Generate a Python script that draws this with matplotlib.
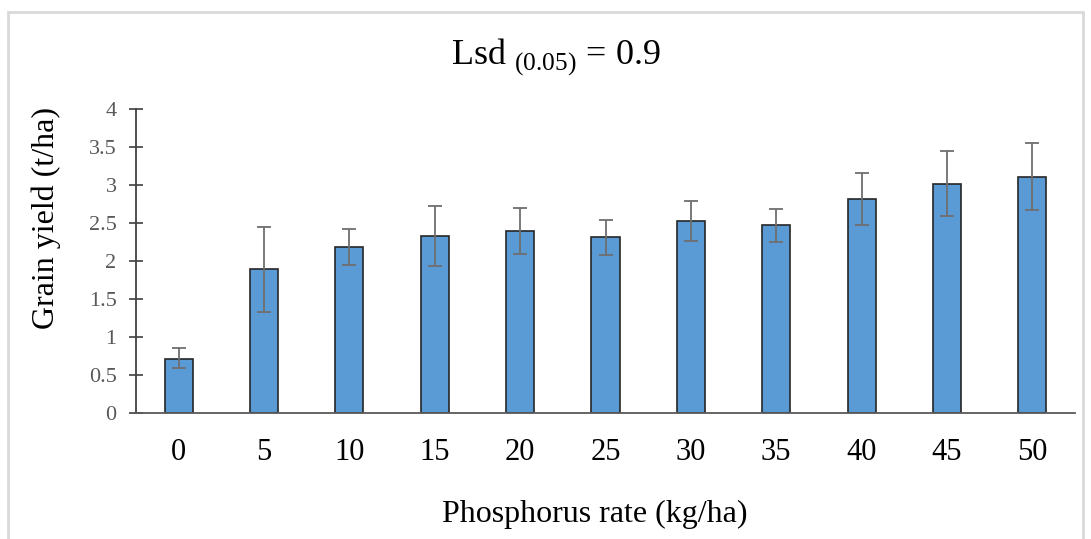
import matplotlib.pyplot as plt
from matplotlib.patches import Rectangle
import numpy as np

# data
p_rate = ['0', '5', '10', '15', '20', '25', '30', '35', '40', '45', '50']
grain_yield = [0.72, 1.90, 2.18, 2.33, 2.40, 2.32, 2.53, 2.47, 2.82, 3.02, 3.11]
err_low = [0.13, 0.57, 0.23, 0.40, 0.30, 0.24, 0.26, 0.22, 0.34, 0.42, 0.44]
err_high = [0.14, 0.55, 0.24, 0.39, 0.30, 0.22, 0.26, 0.22, 0.34, 0.43, 0.44]
y_ticks = [0, 0.5, 1, 1.5, 2, 2.5, 3, 3.5, 4]
y_ticklabels = ['0', '0.5', '1', '1.5', '2', '2.5', '3', '3.5', '4']

plt.rcParams['font.family'] = ['Liberation Serif', 'DejaVu Serif']
plt.rcParams['mathtext.fontset'] = 'custom'
plt.rcParams['mathtext.rm'] = 'Liberation Serif'

W, H = 1091, 539
fig = plt.figure(figsize=(W / 100, H / 100), dpi=100)
ax = fig.add_axes([136 / W, 1 - 413.3 / H, (1075 - 136) / W, (413.3 - 109) / H])

# light grey frame round the chart area
fig.patches.append(Rectangle((8 / W, -0.05), (1083 - 8) / W, 1.05 - 12 / H,
                             transform=fig.transFigure, fill=False,
                             edgecolor='#d9d9d9', linewidth=2))

x = np.arange(len(p_rate))
ax.bar(x, grain_yield, width=0.33, color='#5b9bd5', edgecolor='#262626',
       linewidth=1.2, zorder=2)
ax.errorbar(x, grain_yield, yerr=[err_low, err_high], fmt='none',
            ecolor='#6e6e6e', elinewidth=1.3, capsize=5, capthick=1.3, zorder=3)

ax.set_xlim(-0.5, len(p_rate) - 0.5)
ax.set_ylim(0, 4)
ax.set_xticks(x)
ax.set_xticklabels(p_rate, fontsize=22, color='black')
ax.tick_params(axis='x', length=0, pad=18)
ax.set_yticks(y_ticks)
ax.set_yticklabels(y_ticklabels, fontsize=16, color='#595959')
ax.tick_params(axis='y', direction='inout', length=10, width=1.2,
               color='#404040', pad=9)

for s in ['top', 'right']:
    ax.spines[s].set_visible(False)
ax.spines['left'].set_color('#404040')
ax.spines['left'].set_linewidth(1.3)
ax.spines['bottom'].set_color('#595959')
ax.spines['bottom'].set_linewidth(1.3)

fig.text(556 / W, 1 - 57 / H, r'Lsd $_{\mathrm{(0.05)}}$ = 0.9', fontsize=26,
         ha='center', va='center')
fig.text(595 / W, 1 - 514 / H, 'Phosphorus rate (kg/ha)', fontsize=23,
         ha='center', va='center')
fig.text(46 / W, 1 - 218 / H, 'Grain yield (t/ha)', fontsize=23,
         ha='center', va='center', rotation=90)

fig.savefig('out.png', dpi=100)
